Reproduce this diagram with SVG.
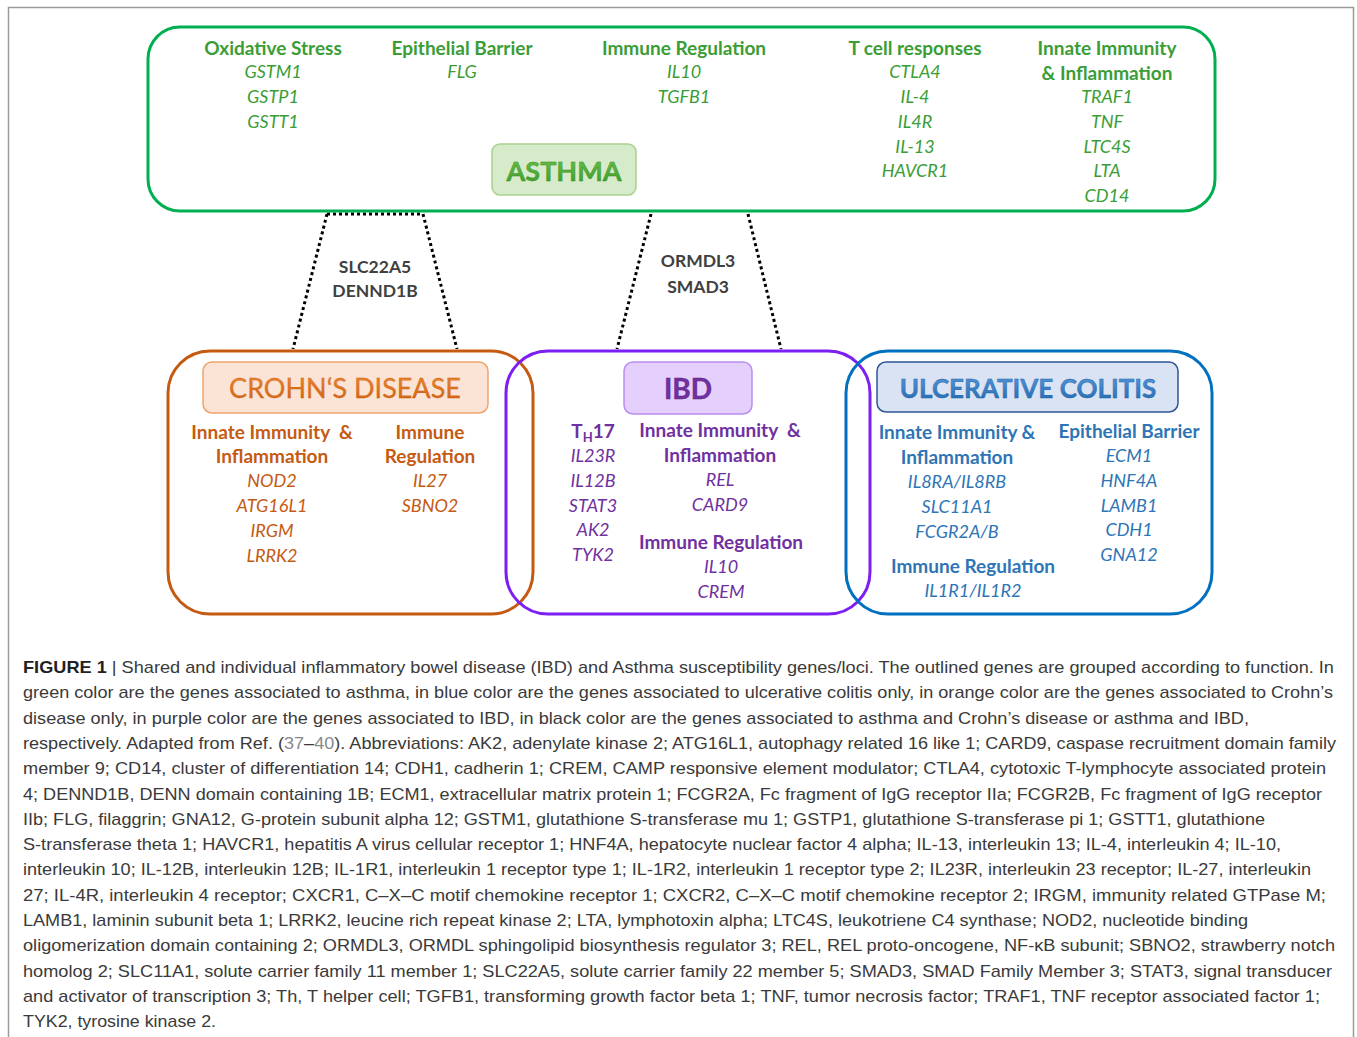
<svg xmlns="http://www.w3.org/2000/svg" width="1357" height="1037" viewBox="0 0 1357 1037">
<defs>
<linearGradient id="gG" x1="0" y1="0" x2="0" y2="1"><stop offset="0" stop-color="#6cc44a"/><stop offset="1" stop-color="#3a9a2a"/></linearGradient>
<linearGradient id="gO" x1="0" y1="0" x2="0" y2="1"><stop offset="0" stop-color="#f08a30"/><stop offset="1" stop-color="#d0600e"/></linearGradient>
<linearGradient id="gB" x1="0" y1="0" x2="0" y2="1"><stop offset="0" stop-color="#5a9be0"/><stop offset="1" stop-color="#1f68b0"/></linearGradient>
</defs>
<style>
.t{font-family:Lato,"Open Sans","Liberation Sans",sans-serif;text-anchor:middle}
.h{font-weight:bold;font-size:19px}
.g{font-style:italic;font-size:18px}
.gr{fill:#3a9d35}
.or{fill:#c55a11}
.pu{fill:#7030a0}
.bl{fill:#2e75b6}
.box{fill:none;stroke-width:3}
.dot{fill:none;stroke:#000;stroke-width:3;stroke-dasharray:3 3}
.lk{font-family:Lato,"Liberation Sans",sans-serif;font-weight:bold;font-size:17.5px;fill:#404040;text-anchor:middle}
.cap{font-family:"Liberation Sans",Arial,sans-serif;font-size:17px;fill:#3a3a3a}
.ref{fill:#8a8a8a}
</style>
<rect width="1357" height="1037" fill="#fff"/>
<path d="M8.5 1037V7.5H1353.5V1037" fill="none" stroke="#9a9a9a" stroke-width="1.5"/>

<g id="connectors">
<path class="dot" d="M327 214L293 349M423 214L457 349M327 214H423"/>
<path class="dot" d="M651 214L617 349M748 214L781 349"/>
<text class="lk" x="375" y="273">SLC22A5</text>
<text class="lk" x="375" y="297">DENND1B</text>
<text class="lk" x="698" y="267">ORMDL3</text>
<text class="lk" x="698" y="293">SMAD3</text>
</g>

<g id="asthma">
<rect class="box" x="148" y="27" width="1067" height="184" rx="32" stroke="#00b050"/>
<rect x="492" y="144" width="144" height="51" rx="8" fill="#d6ebc9" stroke="#a9d18e" stroke-width="1.5"/>
<text class="t" x="564" y="181" font-size="27" font-weight="bold" fill="url(#gG)" stroke="#3a8a2a" stroke-width="0.4">ASTHMA</text>
<g class="t h gr">
<text x="273" y="55">Oxidative Stress</text>
<text x="462" y="55">Epithelial Barrier</text>
<text x="684" y="55">Immune Regulation</text>
<text x="915" y="55">T cell responses</text>
<text x="1107" y="55">Innate Immunity</text>
<text x="1107" y="80">&amp; Inflammation</text>
</g>
<g class="t g gr">
<text x="273" y="78">GSTM1</text>
<text x="273" y="103">GSTP1</text>
<text x="273" y="128">GSTT1</text>
<text x="462" y="78">FLG</text>
<text x="684" y="78">IL10</text>
<text x="684" y="103">TGFB1</text>
<text x="915" y="78">CTLA4</text>
<text x="915" y="103">IL-4</text>
<text x="915" y="128">IL4R</text>
<text x="915" y="153">IL-13</text>
<text x="915" y="177">HAVCR1</text>
<text x="1107" y="103">TRAF1</text>
<text x="1107" y="128">TNF</text>
<text x="1107" y="153">LTC4S</text>
<text x="1107" y="177">LTA</text>
<text x="1107" y="202">CD14</text>
</g>
</g>

<g id="crohns">
<rect class="box" x="168" y="351" width="365" height="263" rx="42" stroke="#c55a11"/>
<rect x="203" y="362" width="285" height="51" rx="9" fill="#fbe4d5" stroke="#eea46e" stroke-width="1.5"/>
<text class="t" x="345" y="398" font-size="27" fill="url(#gO)" stroke="#c55a11" stroke-width="0.3">CROHN‘S DISEASE</text>
<g class="t h or">
<text x="272" y="439">Innate Immunity&#160; &amp;</text>
<text x="272" y="463">Inflammation</text>
<text x="430" y="439">Immune</text>
<text x="430" y="463">Regulation</text>
</g>
<g class="t g or">
<text x="272" y="487">NOD2</text>
<text x="272" y="512">ATG16L1</text>
<text x="272" y="537">IRGM</text>
<text x="272" y="562">LRRK2</text>
<text x="430" y="487">IL27</text>
<text x="430" y="512">SBNO2</text>
</g>
</g>

<g id="ibd">
<rect class="box" x="506" y="351" width="364" height="263" rx="42" stroke="#7b1ff2"/>
<rect x="624" y="362" width="128" height="52" rx="9" fill="#e5cffc" stroke="#b98df2" stroke-width="1.5"/>
<text class="t" x="688" y="399" font-size="28" font-weight="bold" fill="#7030a0" stroke="#5a2080" stroke-width="0.4">IBD</text>
<g class="t h pu">
<text x="593" y="438">T<tspan font-size="13" dy="4">H</tspan><tspan dy="-4">17</tspan></text>
<text x="720" y="437">Innate Immunity&#160; &amp;</text>
<text x="720" y="462">Inflammation</text>
<text x="721" y="549">Immune Regulation</text>
</g>
<g class="t g pu">
<text x="593" y="462">IL23R</text>
<text x="593" y="487">IL12B</text>
<text x="593" y="512">STAT3</text>
<text x="593" y="536">AK2</text>
<text x="593" y="561">TYK2</text>
<text x="720" y="486">REL</text>
<text x="720" y="511">CARD9</text>
<text x="721" y="573">IL10</text>
<text x="721" y="598">CREM</text>
</g>
</g>

<g id="uc">
<rect class="box" x="846" y="351" width="366" height="263" rx="42" stroke="#0070c0"/>
<rect x="877" y="362" width="301" height="50" rx="9" fill="#dae3f3" stroke="#2f5597" stroke-width="1.5"/>
<text class="t" x="1028" y="398" font-size="26" font-weight="bold" fill="url(#gB)" stroke="#1f5fa0" stroke-width="0.4">ULCERATIVE COLITIS</text>
<g class="t h bl">
<text x="957" y="439">Innate Immunity &amp;</text>
<text x="957" y="464">Inflammation</text>
<text x="973" y="573">Immune Regulation</text>
<text x="1129" y="438">Epithelial Barrier</text>
</g>
<g class="t g bl">
<text x="957" y="488">IL8RA/IL8RB</text>
<text x="957" y="513">SLC11A1</text>
<text x="957" y="538">FCGR2A/B</text>
<text x="973" y="597">IL1R1/IL1R2</text>
<text x="1129" y="462">ECM1</text>
<text x="1129" y="487">HNF4A</text>
<text x="1129" y="512">LAMB1</text>
<text x="1129" y="536">CDH1</text>
<text x="1129" y="561">GNA12</text>
</g>
</g>

<g id="caption" class="cap">
<text x="23" y="673" textLength="1311" lengthAdjust="spacingAndGlyphs"><tspan font-weight="bold" fill="#222">FIGURE 1</tspan> | Shared and individual inflammatory bowel disease (IBD) and Asthma susceptibility genes/loci. The outlined genes are grouped according to function. In</text>
<text x="23" y="698.3" textLength="1310" lengthAdjust="spacingAndGlyphs">green color are the genes associated to asthma, in blue color are the genes associated to ulcerative colitis only, in orange color are the genes associated to Crohn’s</text>
<text x="23" y="723.6" textLength="1226" lengthAdjust="spacingAndGlyphs">disease only, in purple color are the genes associated to IBD, in black color are the genes associated to asthma and Crohn’s disease or asthma and IBD,</text>
<text x="23" y="748.9" textLength="1313" lengthAdjust="spacingAndGlyphs">respectively. Adapted from Ref. (<tspan class="ref">37</tspan>–<tspan class="ref">40</tspan>). Abbreviations: AK2, adenylate kinase 2; ATG16L1, autophagy related 16 like 1; CARD9, caspase recruitment domain family</text>
<text x="23" y="774.2" textLength="1303" lengthAdjust="spacingAndGlyphs">member 9; CD14, cluster of differentiation 14; CDH1, cadherin 1; CREM, CAMP responsive element modulator; CTLA4, cytotoxic T-lymphocyte associated protein</text>
<text x="23" y="799.5" textLength="1299" lengthAdjust="spacingAndGlyphs">4; DENND1B, DENN domain containing 1B; ECM1, extracellular matrix protein 1; FCGR2A, Fc fragment of IgG receptor IIa; FCGR2B, Fc fragment of IgG receptor</text>
<text x="23" y="824.8" textLength="1242" lengthAdjust="spacingAndGlyphs">IIb; FLG, filaggrin; GNA12, G-protein subunit alpha 12; GSTM1, glutathione S-transferase mu 1; GSTP1, glutathione S-transferase pi 1; GSTT1, glutathione</text>
<text x="23" y="850.1" textLength="1258" lengthAdjust="spacingAndGlyphs">S-transferase theta 1; HAVCR1, hepatitis A virus cellular receptor 1; HNF4A, hepatocyte nuclear factor 4 alpha; IL-13, interleukin 13; IL-4, interleukin 4; IL-10,</text>
<text x="23" y="875.4" textLength="1288" lengthAdjust="spacingAndGlyphs">interleukin 10; IL-12B, interleukin 12B; IL-1R1, interleukin 1 receptor type 1; IL-1R2, interleukin 1 receptor type 2; IL23R, interleukin 23 receptor; IL-27, interleukin</text>
<text x="23" y="900.7" textLength="1303" lengthAdjust="spacingAndGlyphs">27; IL-4R, interleukin 4 receptor; CXCR1, C–X–C motif chemokine receptor 1; CXCR2, C–X–C motif chemokine receptor 2; IRGM, immunity related GTPase M;</text>
<text x="23" y="926" textLength="1225" lengthAdjust="spacingAndGlyphs">LAMB1, laminin subunit beta 1; LRRK2, leucine rich repeat kinase 2; LTA, lymphotoxin alpha; LTC4S, leukotriene C4 synthase; NOD2, nucleotide binding</text>
<text x="23" y="951.3" textLength="1312" lengthAdjust="spacingAndGlyphs">oligomerization domain containing 2; ORMDL3, ORMDL sphingolipid biosynthesis regulator 3; REL, REL proto-oncogene, NF-κB subunit; SBNO2, strawberry notch</text>
<text x="23" y="976.6" textLength="1309" lengthAdjust="spacingAndGlyphs">homolog 2; SLC11A1, solute carrier family 11 member 1; SLC22A5, solute carrier family 22 member 5; SMAD3, SMAD Family Member 3; STAT3, signal transducer</text>
<text x="23" y="1001.9" textLength="1297" lengthAdjust="spacingAndGlyphs">and activator of transcription 3; Th, T helper cell; TGFB1, transforming growth factor beta 1; TNF, tumor necrosis factor; TRAF1, TNF receptor associated factor 1;</text>
<text x="23" y="1027.2" textLength="193" lengthAdjust="spacingAndGlyphs">TYK2, tyrosine kinase 2.</text>
</g>
</svg>
